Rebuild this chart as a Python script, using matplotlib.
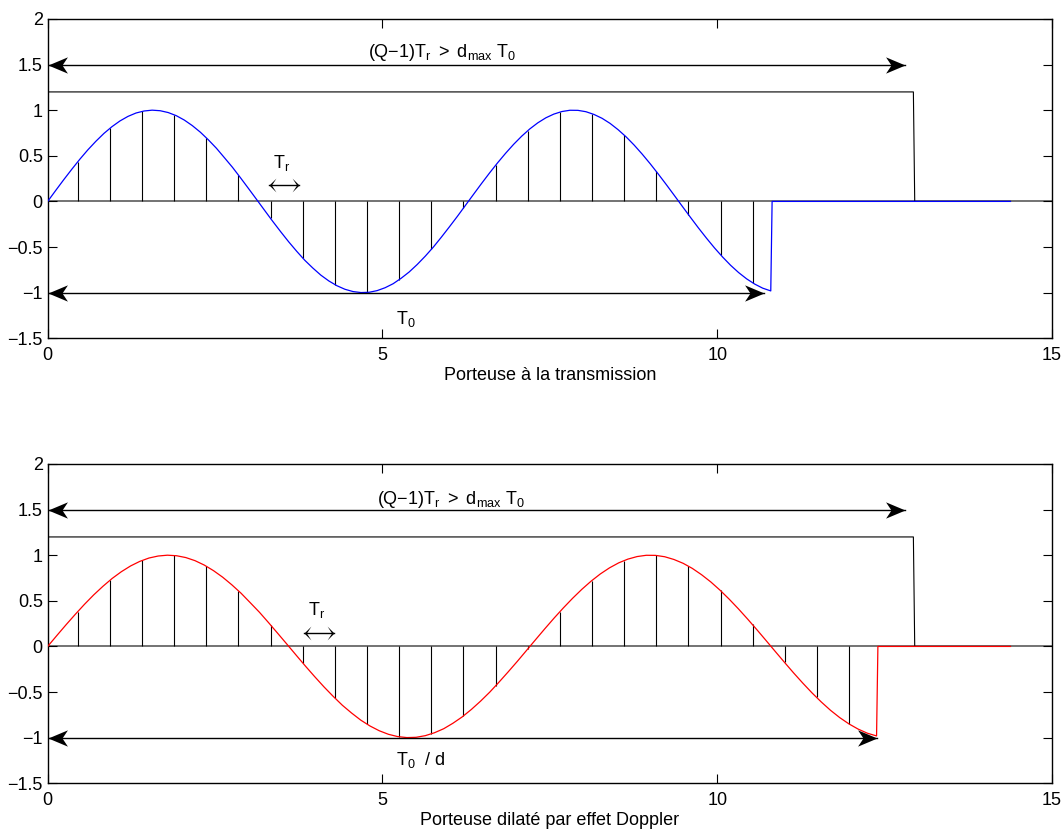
import numpy as np
import matplotlib
matplotlib.use('Agg')
import matplotlib.pyplot as plt
from matplotlib.path import Path

plt.rcParams['font.family'] = ['Liberation Sans', 'DejaVu Sans']
plt.rcParams['mathtext.fontset'] = 'custom'
plt.rcParams['mathtext.rm'] = 'Liberation Sans'
plt.rcParams['mathtext.it'] = 'Liberation Sans:italic'
plt.rcParams['mathtext.bf'] = 'Liberation Sans:bold'
plt.rcParams['font.size'] = 13

#-----
# values
# carrier samples (same shape in both panels, only the time axis is stretched)
carrier_vals = [0.000, 0.120, 0.238, 0.352, 0.462, 0.565, 0.659, 0.745, 0.819, 0.882,
                0.932, 0.969, 0.991, 1.000, 0.994, 0.974, 0.940, 0.892, 0.831, 0.759,
                0.675, 0.583, 0.479, 0.374, 0.259, 0.141, 0.022, -0.098, -0.217, -0.332,
                -0.443, -0.547, -0.645, -0.730, -0.808, -0.872, -0.924, -0.963, -0.988, -0.999,
                -0.996, -0.978, -0.946, -0.902, -0.842, -0.773, -0.691, -0.600, -0.501, -0.392,
                -0.279, -0.163, -0.043, 0.077, 0.196, 0.312, 0.423, 0.528, 0.626, 0.715,
                0.794, 0.861, 0.916, 0.957, 0.985, 0.999, 0.998, 0.983, 0.953, 0.911,
                0.855, 0.786, 0.707, 0.617, 0.518, 0.412, 0.300, 0.184, 0.065, -0.055,
                -0.174, -0.291, -0.403, -0.510, -0.609, -0.700, -0.780, -0.849, -0.906, -0.951,
                -0.981]
carrier_end = [10.80, 12.38]        # last carrier sample: transmission / Doppler
signal_stop = 14.38

window_level = 1.2
window_end = 12.93

stem_t = [0.45, 0.93, 1.41, 1.89, 2.37, 2.85, 3.33, 3.81, 4.29, 4.77, 5.25, 5.73,
          6.21, 6.69, 7.17, 7.65, 8.13, 8.61, 9.09, 9.57, 10.05, 10.53, 11.01, 11.49, 11.97]
stem_tx = [0.435, 0.802, 0.987, 0.949, 0.697, 0.287, -0.187, -0.620, -0.912, -0.998, -0.859,
           -0.525, -0.073, 0.396, 0.775, 0.979, 0.962, 0.728, 0.329, -0.145, -0.585, -0.894]
stem_rx = [0.382, 0.725, 0.942, 0.997, 0.880, 0.611, 0.236, -0.179, -0.563, -0.851, -0.991,
           -0.960, -0.764, -0.436, -0.032, 0.377, 0.721, 0.940, 0.998, 0.882, 0.615, 0.242,
           -0.173, -0.558, -0.848]

guard_arrow_end = [12.80, 12.80]    # (Q-1)Tr arrow at y = 1.5
period_arrow_end = [10.70, 12.38]   # T0 arrow at y = -1
tr_arrow = [(3.30, 3.76), (3.83, 4.27)]

xlabels = ['Porteuse à la transmission', 'Porteuse dilaté par effet Doppler']
period_labels = [r'$\mathregular{T_0}$', r'$\mathregular{T_0\ \ /\ d}$']
guard_label = r'$\mathregular{(Q{-}1)T_r\ {>}\ d_{max}\ T_0}$'
colors = ['blue', 'red']

#-----
def head_marker(w, notch, flip=False):
    s = -1 if flip else 1
    verts = [(0, 0), (-s, w), (-s * notch, 0), (-s, -w), (0, 0)]
    codes = [Path.MOVETO, Path.LINETO, Path.LINETO, Path.LINETO, Path.CLOSEPOLY]
    return Path(verts, codes)

big_r = head_marker(0.42, 0.72)
big_l = head_marker(0.42, 0.72, flip=True)
small_r = head_marker(1.0, 0.35)
small_l = head_marker(1.0, 0.35, flip=True)


def double_arrow(ax, x0, x1, y, big=True):
    ax.plot([x0, x1], [y, y], color='k', lw=1.0, zorder=4)
    if big:
        ml, mr, ms = big_l, big_r, 28
    else:
        ml, mr, ms = small_l, small_r, 10
    ax.plot([x0], [y], marker=ml, ms=ms, color='k', mew=0, ls='none', zorder=5, clip_on=False)
    ax.plot([x1], [y], marker=mr, ms=ms, color='k', mew=0, ls='none', zorder=5, clip_on=False)


fig = plt.figure(figsize=(10.64, 8.34), dpi=100)
positions = [[0.0448, 0.5944, 0.9439, 0.3829], [0.0448, 0.0608, 0.9439, 0.3829]]
stems = [stem_tx, stem_rx]
guard_pos = [(4.78, 1.58), (4.92, 1.565)]
period_pos = [(5.20, -1.34), (5.20, -1.30)]
tr_label_pos = [(3.50, 0.37), (4.02, 0.34)]

for i in range(2):
    ax = fig.add_axes(positions[i])

    # stem baseline, across the whole axis
    ax.axhline(0, color='0.3', lw=1.1, zorder=1)

    # rectangular window
    ax.plot([0, window_end, window_end + 0.02, signal_stop],
            [window_level, window_level, 0, 0], color='k', lw=0.8, zorder=2)

    # carrier
    t = np.linspace(0, carrier_end[i], len(carrier_vals))
    x = list(t) + [carrier_end[i] + 0.02, signal_stop]
    y = carrier_vals + [0, 0]
    ax.plot(x, y, color=colors[i], lw=0.9, zorder=3)

    # samples
    ax.vlines(stem_t[:len(stems[i])], 0, stems[i], color='k', lw=0.8, zorder=2)

    # annotations
    double_arrow(ax, 0, guard_arrow_end[i], 1.5)
    double_arrow(ax, 0, period_arrow_end[i], -1)
    double_arrow(ax, tr_arrow[i][0], tr_arrow[i][1], tr_label_pos[i][1] - 0.19, big=False)
    ax.text(*guard_pos[i], guard_label, ha='left', va='baseline')
    ax.text(*period_pos[i], period_labels[i], ha='left', va='baseline')
    ax.text(*tr_label_pos[i], r'$\mathregular{T_r}$', ha='center', va='baseline')

    ax.set_xlim(0, 15)
    ax.set_ylim(-1.5, 2)
    ax.set_xticks([0, 5, 10, 15])
    ax.set_yticks([-1.5, -1, -0.5, 0, 0.5, 1, 1.5, 2])
    ax.set_yticklabels(['\u22121.5', '\u22121', '\u22120.5', '0', '0.5', '1', '1.5', '2'])
    ax.tick_params(direction='in', length=6.5, width=0.8, top=True, right=True)
    ax.tick_params(axis='x', pad=6)
    ax.tick_params(axis='y', pad=3.5)
    for sp in ax.spines.values():
        sp.set_linewidth(1.0)
    ax.set_xlabel(xlabels[i], labelpad=2.5)

plt.savefig('out.png', dpi=100)
